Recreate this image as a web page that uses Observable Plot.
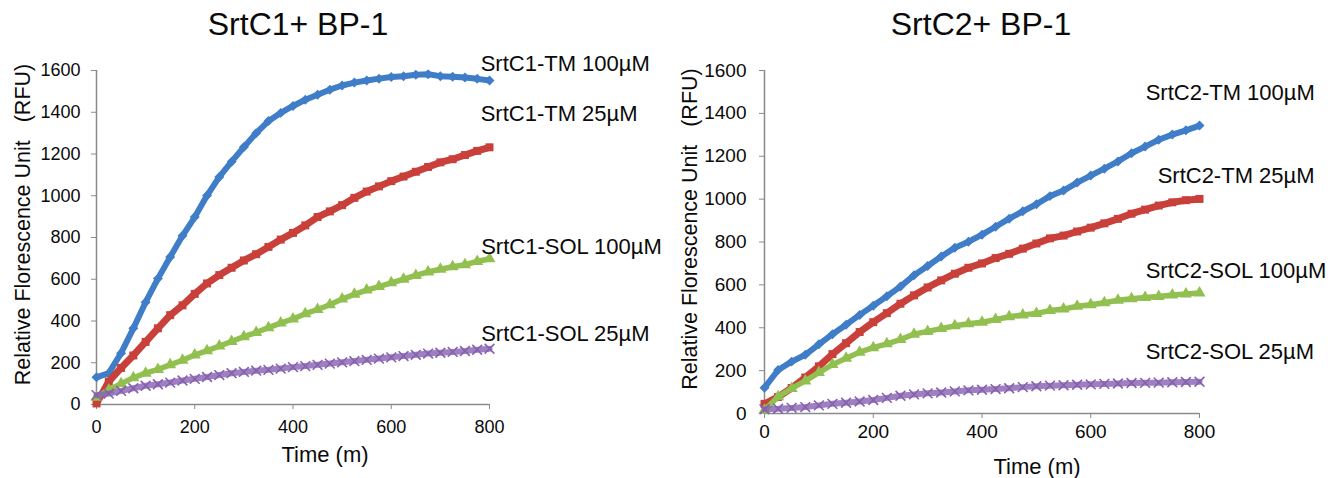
<!DOCTYPE html>
<html>
<head>
<meta charset="utf-8">
<script src="https://cdn.jsdelivr.net/npm/d3@7"></script>
<script src="https://cdn.jsdelivr.net/npm/@observablehq/plot@0.6"></script>
<style>
  html, body { margin: 0; padding: 0; background: #fff; }
  #wrap { position: relative; width: 1338px; height: 478px; overflow: hidden; font-family: "Liberation Sans", Arial, sans-serif; color: #0a0a0a; }
  .title { position: absolute; top: 8px; width: 400px; text-align: center; font-size: 32px; line-height: 32px; white-space: nowrap; }
  .panel { position: absolute; top: 45px; }
</style>
</head>
<body>
<div id="wrap">
  <div class="title" style="left:98px">SrtC1+ BP-1</div>
  <div class="title" style="left:781px">SrtC2+ BP-1</div>
  <div class="panel" id="left" style="left:0px"></div>
  <div class="panel" id="right" style="left:669px"></div>
</div>
<script>
// ---- data ----
const TIME = [0,25,50,75,100,125,150,175,200,225,250,275,300,325,350,375,400,425,450,475,500,525,550,575,600,625,650,675,700,725,750,775,800];
const X_TICKS = [0,200,400,600,800];
const Y_TICKS = [0,200,400,600,800,1000,1200,1400,1600];

const SERIES_C1 = ["SrtC1-TM 100µM","SrtC1-TM 25µM","SrtC1-SOL 100µM","SrtC1-SOL 25µM"];
const C1_TM100  = [130,150,246,365,490,603,707,808,898,1001,1090,1163,1233,1300,1358,1397,1430,1460,1484,1508,1528,1542,1552,1561,1569,1572,1580,1582,1573,1570,1566,1560,1552];
const C1_TM25   = [5,110,175,235,300,365,428,475,530,580,620,655,690,720,755,790,822,858,898,925,955,990,1020,1045,1070,1092,1115,1138,1160,1175,1195,1215,1232];
const C1_SOL100 = [35,70,100,128,150,168,190,212,237,258,280,302,325,345,368,390,410,435,455,478,505,528,548,565,583,600,618,635,648,660,670,685,698];
const C1_SOL25  = [45,52,65,78,90,97,105,115,123,132,141,150,156,162,166,172,179,184,190,196,202,208,214,220,226,232,238,244,248,252,256,262,267];

const SERIES_C2 = ["SrtC2-TM 100µM","SrtC2-TM 25µM","SrtC2-SOL 100µM","SrtC2-SOL 25µM"];
const C2_TM100  = [120,203,242,274,323,370,414,460,503,547,592,645,688,732,773,801,834,871,909,943,976,1014,1040,1077,1110,1142,1176,1214,1245,1277,1301,1321,1343];
const C2_TM25   = [45,77,119,168,220,277,328,380,426,468,512,551,588,621,652,680,700,725,745,769,793,817,830,849,867,887,908,932,951,970,985,995,1001];
const C2_SOL100 = [15,78,117,152,191,228,258,286,307,325,345,370,383,396,409,419,426,438,451,460,467,480,487,500,507,517,528,535,541,546,553,558,562];
const C2_SOL25  = [20,22,26,30,38,45,50,56,63,73,83,89,94,98,103,108,111,114,118,123,127,130,132,134,136,138,140,142,143,144,146,147,148];

const X_LABEL = "Time (m)";
const Y_LABEL = "Relative Florescence Unit\u00a0\u00a0\u00a0(RFU)";

// ---- styles ----
const COLORS  = ["#3F7DC8", "#C9403A", "#92C050", "#8660B0"];
const SYMBOLS = ["diamond2", "square", "triangle", "times"];
const BAND    = [6, 7, 5.5, 6];
const AXIS = "#8a8a8a", TXT = "#0a0a0a";
const FONT = "'Liberation Sans', Arial, sans-serif";

function panel(names, values, cfg) {
  const marks = [
    Plot.ruleY([0], {stroke: AXIS, strokeWidth: 1.5}),
    Plot.ruleX([0], {stroke: AXIS, strokeWidth: 1.5}),
    Plot.axisX({ticks: X_TICKS, tickFormat: d3.format("d"), tickSize: 5, tickPadding: cfg.xPad, fontSize: cfg.tickFont, stroke: AXIS, fill: TXT, label: null}),
    Plot.axisY({ticks: Y_TICKS, tickFormat: d3.format("d"), tickSize: 5, tickPadding: cfg.yPad, fontSize: cfg.tickFont, stroke: AXIS, fill: TXT, label: null})
  ];
  names.forEach((name, k) => {
    const rows = TIME.map((t, i) => ({t, v: values[k][i]}));
    marks.push(Plot.line(rows, {x: "t", y: "v", stroke: COLORS[k], strokeWidth: BAND[k], strokeOpacity: SYMBOLS[k] === "times" ? 0.8 : 1}));
    if (SYMBOLS[k] === "times") {
      marks.push(Plot.dot(rows, {x: "t", y: "v", symbol: SYMBOLS[k], stroke: COLORS[k], strokeWidth: 1.6, r: 4.5}));
    } else {
      marks.push(Plot.dot(rows, {x: "t", y: "v", symbol: SYMBOLS[k], fill: COLORS[k], stroke: "none", r: 4.5}));
    }
  });
  const lab = names.map((name, k) => ({name, x: cfg.labelX[k], y: cfg.labelY[k]}));
  marks.push(Plot.text(lab, {x: "x", y: "y", text: "name", textAnchor: "start", lineAnchor: "middle", fontSize: 22, fill: TXT}));
  marks.push(Plot.text([X_LABEL], {frameAnchor: "bottom", textAnchor: "middle", lineAnchor: "middle", dx: cfg.xLabelDx, dy: cfg.xLabelDy, fontSize: 22, fill: TXT}));
  marks.push(Plot.text([Y_LABEL], {frameAnchor: "left", textAnchor: "middle", lineAnchor: "middle", rotate: -90, dx: cfg.yLabelDx, dy: cfg.yLabelDy, fontSize: 21.5, fill: TXT}));
  return Plot.plot({
    width: 669, height: 433,
    marginLeft: cfg.ml, marginRight: cfg.mr, marginTop: 25, marginBottom: cfg.mb,
    x: {domain: [0, 800]},
    y: {domain: [0, 1600]},
    style: {fontFamily: FONT, background: "transparent", overflow: "visible", color: TXT},
    marks
  });
}

document.getElementById("left").appendChild(panel(SERIES_C1, [C1_TM100, C1_TM25, C1_SOL100, C1_SOL25], {
  ml: 96, mr: 180, mb: 74, tickFont: 18, xPad: 11, yPad: 11,
  labelX: [782, 782, 783, 783], labelY: [1629, 1394, 757, 340],
  xLabelDx: 32, xLabelDy: 50, yLabelDx: -73, yLabelDy: -13
}));
document.getElementById("right").appendChild(panel(SERIES_C2, [C2_TM100, C2_TM25, C2_SOL100, C2_SOL25], {
  ml: 95, mr: 139, mb: 65, tickFont: 19, xPad: 6, yPad: 13,
  labelX: [701, 723, 701, 701], labelY: [1497, 1110, 667, 285],
  xLabelDx: 55, xLabelDy: 53, yLabelDx: -74, yLabelDy: -13
}));
</script>
</body>
</html>
